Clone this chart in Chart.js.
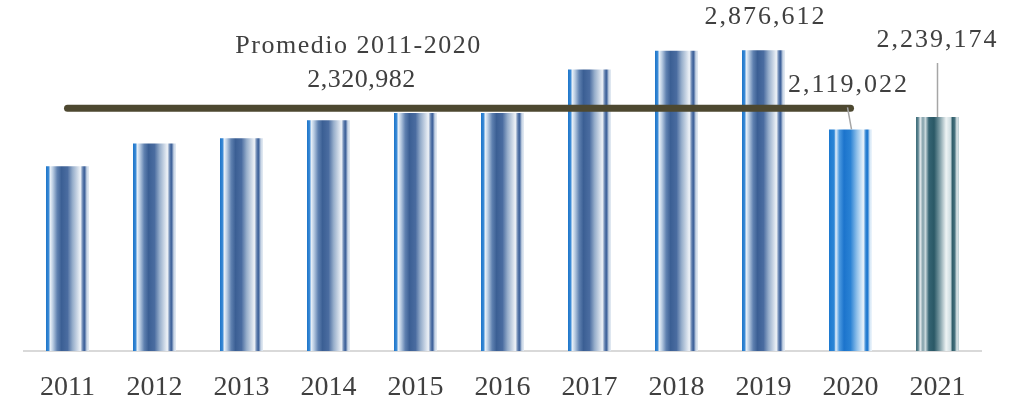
<!DOCTYPE html>
<html lang="es">
<head>
    <meta charset="UTF-8">
    <title>Promedio 2011-2020</title>
    <script src="https://cdn.jsdelivr.net/npm/chart.js"></script>
    <style>
        body { margin: 0; background: #fff; }
        .chart-box { width: 1021px; height: 405px; }
    </style>
</head>
<body>
    <div class="chart-box">
        <canvas id="promedioChart"></canvas>
    </div>
    <script>
        // Data
        const years = ['2011', '2012', '2013', '2014', '2015', '2016', '2017', '2018', '2019', '2020', '2021'];
        const values = [1768000, 1985000, 2036000, 2208000, 2277000, 2277000, 2692000, 2872000, 2876612, 2119022, 2239174];
        const promedio = 2320982;
        const promedioYears = ['2011', '2012', '2013', '2014', '2015', '2016', '2017', '2018', '2019', '2020'];
        const yMax = 3300000;

        // gradient stops for the bars (blue, bright blue for 2020, teal for 2021)
        const blueStops = [[0, '#1a73c8'], [0.06, '#3a8ad6'], [0.1, '#e8f0f8'], [0.16, '#b9cce2'], [0.26, '#5f81b0'],
            [0.36, '#3b5f94'], [0.5, '#4a6ca0'], [0.62, '#97aecb'], [0.8, '#eef2f7'], [0.86, '#5a7aab'],
            [0.9, '#3f629a'], [0.95, '#c9d6e6'], [1, '#e4ebf3']];
        const brightStops = [[0, '#1a78d0'], [0.12, '#2d86d6'], [0.16, '#e6f0fa'], [0.24, '#4d9ae0'], [0.35, '#1c74cc'],
            [0.5, '#2a82d4'], [0.65, '#8fc0ea'], [0.8, '#eaf3fb'], [0.86, '#2a80d2'], [0.9, '#1f78cf'],
            [0.95, '#d5e7f7'], [1, '#eef5fb']];
        const tealStops = [[0, '#3a6a77'], [0.05, '#5d8591'], [0.1, '#e3eaed'], [0.16, '#7f9ea8'], [0.22, '#c9d8dc'],
            [0.3, '#356473'], [0.42, '#2a5866'], [0.55, '#7c9ba4'], [0.7, '#eef3f4'], [0.8, '#cfdde1'],
            [0.85, '#2e5c69'], [0.9, '#4a7480'], [0.95, '#dbe5e8'], [1, '#bccdd2']];

        const BAR_PCT = 0.494;

        function stopsFor(i) {
            if (years[i] === '2021') return tealStops;
            if (years[i] === '2020') return brightStops;
            return blueStops;
        }

        // paints each bar with its gradient once the bars have their positions
        const gradientPlugin = {
            id: 'barGradients',
            beforeDatasetsDraw(chart) {
                const ctx = chart.ctx;
                chart.getDatasetMeta(1).data.forEach((bar, i) => {
                    const g = ctx.createLinearGradient(bar.x - bar.width / 2, 0, bar.x + bar.width / 2, 0);
                    stopsFor(i).forEach(s => g.addColorStop(s[0], s[1]));
                    bar.options.backgroundColor = g;
                });
            }
        };

        const fmt = v => v.toLocaleString('en-US');

        // labels and leader lines
        const labelPlugin = {
            id: 'valueLabels',
            afterDatasetsDraw(chart) {
                const ctx = chart.ctx;
                const bars = chart.getDatasetMeta(1).data;
                const xs = chart.scales.x;
                const ys = chart.scales.y;
                ctx.save();
                ctx.fillStyle = '#404040';
                ctx.textAlign = 'center';
                ctx.textBaseline = 'middle';
                ctx.font = '26px "Liberation Serif"';
                ctx.letterSpacing = '2px';

                const b19 = bars[years.indexOf('2019')];
                ctx.fillText(fmt(values[8]), b19.x + 2, b19.y - 33);
                const b20 = bars[years.indexOf('2020')];
                ctx.fillText(fmt(values[9]), b20.x - 2, b20.y - 44);
                const b21 = bars[years.indexOf('2021')];
                ctx.fillText(fmt(values[10]), b21.x, b21.y - 77);

                ctx.strokeStyle = '#a6a6a6';
                ctx.lineWidth = 1.5;
                ctx.beginPath();
                ctx.moveTo(b20.x - 3, b20.y - 22);
                ctx.lineTo(b20.x + 1, b20.y);
                ctx.moveTo(b21.x, b21.y - 54);
                ctx.lineTo(b21.x, b21.y);
                ctx.stroke();

                // average label
                const yAvg = ys.getPixelForValue(promedio);
                const xAvg = xs.getPixelForValue(3) + 30;
                ctx.letterSpacing = '1.5px';
                ctx.fillText('Promedio 2011-2020', xAvg, yAvg - 62);
                ctx.letterSpacing = '0.5px';
                ctx.fillText(fmt(promedio), xAvg + 3, yAvg - 28);
                ctx.restore();
            }
        };

        new Chart(document.getElementById('promedioChart'), {
            data: {
                labels: years,
                datasets: [{
                    type: 'line',
                    label: 'Promedio 2011-2020',
                    data: years.map(y => promedioYears.includes(y) ? promedio : null),
                    borderColor: '#4d4830',
                    borderWidth: 7,
                    borderCapStyle: 'round',
                    pointRadius: 0,
                    order: 0
                }, {
                    type: 'bar',
                    label: 'Valor',
                    data: values,
                    // scriptable so every bar gets its own options object
                    backgroundColor: () => '#3b5f94',
                    borderWidth: 0,
                    categoryPercentage: 1,
                    barPercentage: BAR_PCT,
                    order: 1
                }]
            },
            options: {
                responsive: true,
                maintainAspectRatio: false,
                animation: false,
                layout: {
                    padding: { left: 24, right: 40, top: 6, bottom: 4 }
                },
                plugins: {
                    legend: { display: false },
                    tooltip: { enabled: false }
                },
                scales: {
                    x: {
                        grid: { display: false, drawTicks: false },
                        border: { display: true, color: '#d9d9d9', width: 2 },
                        ticks: {
                            color: '#404040',
                            font: { family: 'Liberation Serif', size: 28 },
                            padding: 20,
                            maxRotation: 0
                        },
                        afterFit(scale) {
                            scale.height = 50;
                        }
                    },
                    y: {
                        display: false,
                        min: 0,
                        max: yMax
                    }
                }
            },
            plugins: [gradientPlugin, labelPlugin]
        });
    </script>
</body>
</html>
